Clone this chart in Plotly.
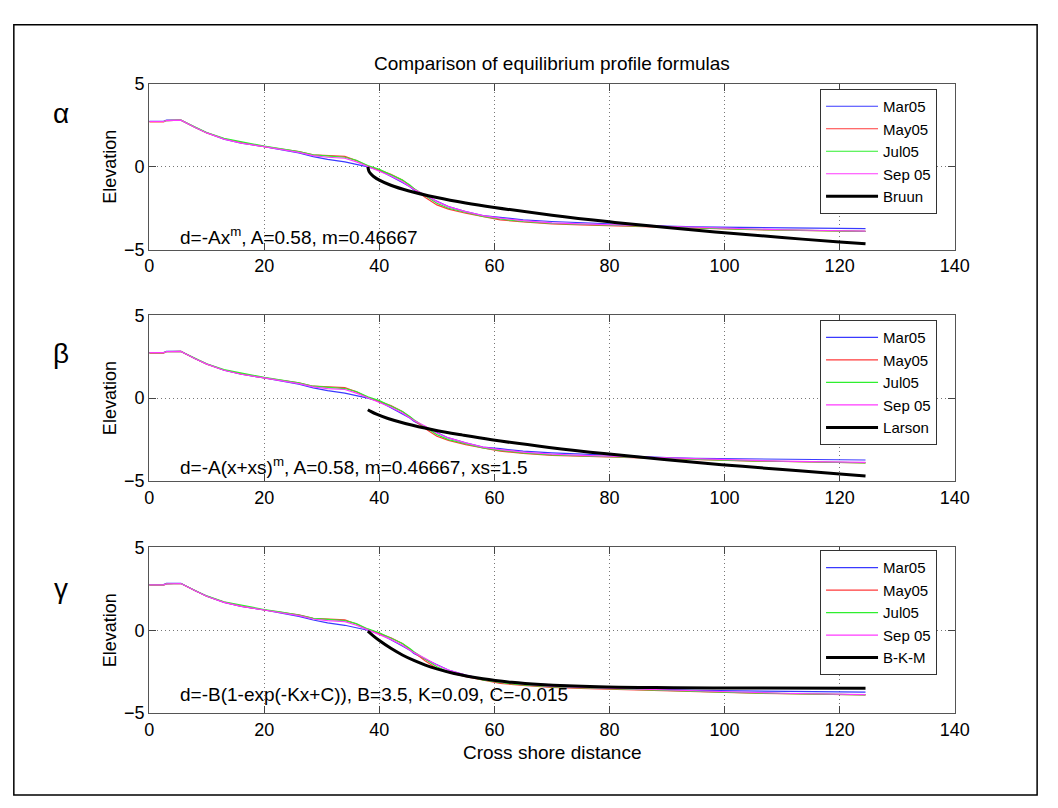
import plotly.graph_objects as go

# ---------------- data ----------------
dist = [0, 2.5, 3.0, 5.5, 8, 10, 13, 16, 20, 23, 26, 28.5, 31, 34, 36, 38, 40, 42, 44, 45.3,
        46, 48, 50, 52, 55, 58, 61, 65, 70, 75, 80, 85, 90, 95, 100, 105, 110, 115, 120, 124.5]

mar05 = [2.75, 2.75, 2.83, 2.83, 2.38, 2.06, 1.68, 1.44, 1.22, 1.05, 0.84, 0.62, 0.45, 0.30, 0.16,
         0.0, -0.2, -0.55, -0.95, -1.2, -1.4, -1.75, -2.1, -2.4, -2.7, -2.95, -3.05, -3.2, -3.3,
         -3.38, -3.45, -3.52, -3.58, -3.63, -3.65, -3.66, -3.68, -3.7, -3.72, -3.73]
may05 = [2.72, 2.72, 2.8, 2.82, 2.38, 2.05, 1.7, 1.46, 1.22, 1.07, 0.93, 0.72, 0.67, 0.63, 0.38,
         0.05, -0.2, -0.45, -0.8, -1.15, -1.3, -1.85, -2.3, -2.55, -2.8, -3.0, -3.2, -3.33, -3.45,
         -3.5, -3.55, -3.6, -3.68, -3.72, -3.75, -3.8, -3.82, -3.85, -3.88, -3.9]
jul05 = [2.74, 2.74, 2.8, 2.82, 2.4, 2.07, 1.72, 1.5, 1.25, 1.09, 0.92, 0.72, 0.65, 0.58, 0.4,
         0.08, -0.15, -0.45, -0.8, -1.1, -1.3, -1.75, -2.2, -2.5, -2.75, -3.0, -3.15, -3.3, -3.42,
         -3.48, -3.52, -3.58, -3.65, -3.7, -3.74, -3.78, -3.82, -3.86, -3.9, -3.9]
sep05 = [2.74, 2.74, 2.8, 2.82, 2.38, 2.05, 1.68, 1.44, 1.22, 1.06, 0.88, 0.68, 0.58, 0.52, 0.3,
         0.02, -0.25, -0.55, -0.9, -1.2, -1.35, -1.7, -2.1, -2.4, -2.7, -2.95, -3.1, -3.25, -3.38,
         -3.45, -3.5, -3.56, -3.62, -3.68, -3.72, -3.76, -3.8, -3.83, -3.86, -3.88]

bruun_x = [38, 38.2, 38.5, 39, 40, 42, 45, 50, 55, 60, 70, 80, 90, 100, 110, 120, 124.5]
bruun_y = [0.0, -0.27, -0.42, -0.58, -0.80, -1.11, -1.44, -1.85, -2.18, -2.45, -2.92, -3.32,
           -3.67, -3.98, -4.27, -4.54, -4.65]

larson_x = [38, 38.5, 39.5, 41.5, 44.5, 49.5, 54.5, 59.5, 69.5, 79.5, 89.5, 99.5, 109.5, 119.5, 124.5]
larson_y = [-0.70, -0.80, -0.97, -1.23, -1.53, -1.92, -2.23, -2.51, -2.97, -3.36, -3.70, -4.01,
            -4.29, -4.56, -4.69]

bkm_x = [38, 39, 40, 42, 44, 46, 48, 50, 53, 58, 63, 68, 78, 88, 98, 124.5]
bkm_y = [-0.05, -0.35, -0.62, -1.09, -1.49, -1.82, -2.10, -2.33, -2.61, -2.93, -3.14, -3.27,
         -3.41, -3.46, -3.48, -3.50]

profile_names = ["Mar05", "May05", "Jul05", "Sep 05"]
profile_vals = [mar05, may05, jul05, sep05]
profile_colors = ["#3a3aff", "#ff3a3a", "#2eef2e", "#ff3aff"]

model_names = ["Bruun", "Larson", "B-K-M"]
model_x = [bruun_x, larson_x, bkm_x]
model_y = [bruun_y, larson_y, bkm_y]
panel_letters = ["\u03b1", "\u03b2", "\u03b3"]
formulas = ["d=-Ax<sup>m</sup>, A=0.58, m=0.46667",
            "d=-A(x+xs)<sup>m</sup>, A=0.58, m=0.46667, xs=1.5",
            "d=-B(1-exp(-Kx+C)), B=3.5, K=0.09, C=-0.015"]
formula_y = [-4.18, -4.1, -3.88]

x_ticks = [0, 20, 40, 60, 80, 100, 120, 140]
y_ticks = [-5, 0, 5]

# ---------------- layout geometry ----------------
W, H = 1058, 808
FONT = "Liberation Sans, Arial, sans-serif"
x_dom = [147 / W, 968 / W]
panels_px = [(76, 245.7), (313, 483), (551, 721)]
y_doms = [[1 - b / H, 1 - t / H] for t, b in panels_px]
legend_tops = [81, 318, 554]
letter_y = [106, 352, 593]

fig = go.Figure()

for i in range(3):
    ax = "" if i == 0 else str(i + 1)
    leg = "legend" if i == 0 else "legend%d" % (i + 1)
    for name, vals, col in zip(profile_names, profile_vals, profile_colors):
        fig.add_trace(go.Scatter(x=dist, y=vals, mode="lines", name=name,
                                 line=dict(color=col, width=1.2),
                                 xaxis="x" + ax, yaxis="y" + ax, legend=leg))
    fig.add_trace(go.Scatter(x=model_x[i], y=model_y[i], mode="lines", name=model_names[i],
                             line=dict(color="black", width=3, shape="spline"),
                             xaxis="x" + ax, yaxis="y" + ax, legend=leg))

axis_common = dict(showline=True, linecolor="#555", linewidth=1, mirror="ticks",
                   ticks="inside", ticklen=7, tickcolor="#444", showgrid=True,
                   gridcolor="#777", griddash="1px,3px", gridwidth=1, zeroline=False,
                   tickfont=dict(family=FONT, size=18, color="black"))

layout = dict(width=W, height=H, autosize=False, margin=dict(l=0, r=0, t=0, b=0),
              paper_bgcolor="white", plot_bgcolor="white", showlegend=True)

for i in range(3):
    sfx = "" if i == 0 else str(i + 1)
    layout["xaxis" + sfx] = dict(domain=x_dom, range=[0, 140], tickvals=x_ticks,
                                 anchor="y" + sfx, **axis_common)
    layout["yaxis" + sfx] = dict(domain=y_doms[i], range=[-5, 5], tickvals=y_ticks,
                                 anchor="x" + sfx, **axis_common)
    leg = "legend" if i == 0 else "legend%d" % (i + 1)
    layout[leg] = dict(x=950 / W, xanchor="right", y=1 - legend_tops[i] / H, yanchor="top",
                       bgcolor="white", bordercolor="#333", borderwidth=1,
                       font=dict(family=FONT, size=15, color="black"),
                       tracegroupgap=0, itemwidth=52)

fig.update_layout(**layout)

ann = []
ann.append(dict(text="Comparison of equilibrium profile formulas", x=557.5 / W, y=1 - 55 / H,
                xref="paper", yref="paper", showarrow=False, xanchor="center", yanchor="middle",
                font=dict(family=FONT, size=19, color="black")))
ann.append(dict(text="Cross shore distance", x=557.5 / W, y=1 - 761 / H,
                xref="paper", yref="paper", showarrow=False, xanchor="center", yanchor="middle",
                font=dict(family=FONT, size=19, color="black")))
for i in range(3):
    sfx = "" if i == 0 else str(i + 1)
    t, b = panels_px[i]
    ann.append(dict(text="Elevation", x=107 / W, y=1 - (t + b) / 2 / H, textangle=-90,
                    xref="paper", yref="paper", showarrow=False, xanchor="center",
                    yanchor="middle", font=dict(family=FONT, size=18, color="black")))
    ann.append(dict(text=panel_letters[i], x=57 / W, y=1 - letter_y[i] / H,
                    xref="paper", yref="paper", showarrow=False, xanchor="center",
                    yanchor="middle", font=dict(family=FONT, size=28, color="black")))
    ann.append(dict(text=formulas[i], x=5, y=formula_y[i], xref="x" + sfx, yref="y" + sfx,
                    showarrow=False, xanchor="left", yanchor="middle",
                    font=dict(family=FONT, size=19, color="black")))
fig.update_layout(annotations=ann)

fig.add_shape(type="rect", xref="paper", yref="paper", x0=9 / W, x1=1052 / W,
              y0=1 - 805 / H, y1=1 - 15 / H, line=dict(color="black", width=1.5),
              fillcolor="rgba(0,0,0,0)", layer="below")

fig.write_html("out.html")
